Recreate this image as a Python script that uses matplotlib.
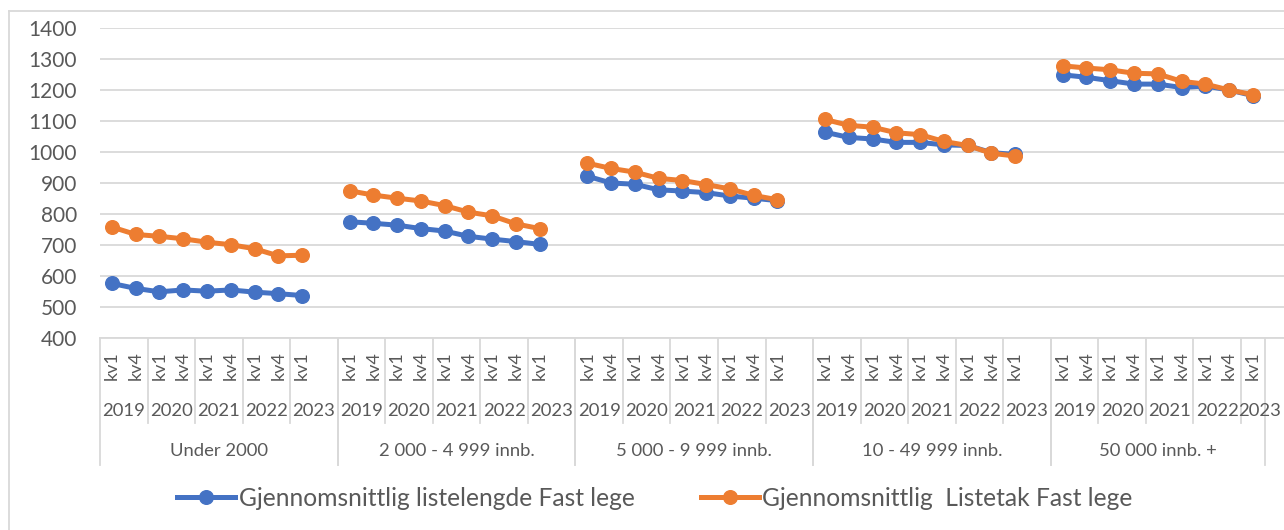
import numpy as np
import matplotlib.pyplot as plt
from matplotlib import transforms
from matplotlib.lines import Line2D

plt.rcParams['font.family'] = ['Lato', 'DejaVu Sans']

# Category levels
groups = ["Under 2000", "2 000 - 4 999 innb.", "5 000 - 9 999 innb.",
          "10 - 49 999 innb.", "50 000 innb. +"]
years = ["2019", "2020", "2021", "2022", "2023"]
quarters = ["kv1", "kv4", "kv1", "kv4", "kv1", "kv4", "kv1", "kv4", "kv1"]

# Gjennomsnittlig listelengde per kommunestørrelse
listelengde_under_2000 = [576, 560, 549, 555, 551, 555, 548, 543, 537]
listelengde_2000_4999 = [775, 770, 764, 753, 745, 728, 719, 711, 702]
listelengde_5000_9999 = [922, 900, 896, 878, 874, 869, 858, 851, 843]
listelengde_10_49999 = [1064, 1047, 1042, 1031, 1031, 1023, 1021, 998, 992]
listelengde_50000 = [1249, 1241, 1230, 1219, 1219, 1208, 1213, 1200, 1182]

# Gjennomsnittlig listetak per kommunestørrelse
listetak_under_2000 = [758, 734, 728, 720, 709, 701, 688, 665, 667]
listetak_2000_4999 = [875, 861, 851, 842, 827, 806, 794, 768, 753]
listetak_5000_9999 = [964, 947, 935, 915, 908, 895, 881, 860, 846]
listetak_10_49999 = [1105, 1086, 1080, 1062, 1056, 1034, 1021, 996, 987]
listetak_50000 = [1278, 1271, 1265, 1254, 1252, 1228, 1219, 1200, 1185]

listelengde = [listelengde_under_2000, listelengde_2000_4999, listelengde_5000_9999,
               listelengde_10_49999, listelengde_50000]
listetak = [listetak_under_2000, listetak_2000_4999, listetak_5000_9999,
            listetak_10_49999, listetak_50000]

# Slots per group on the category axis (last group has no trailing blank slot)
group_slots = [10, 10, 10, 10, 9]
starts = np.concatenate([[0], np.cumsum(group_slots)[:-1]])
n_slots_total = 50


def build_series(values_per_group):
    xs, ys = [], []
    for s, vals in zip(starts, values_per_group):
        xs.extend(s + np.arange(len(vals)) + 0.5)
        ys.extend(vals)
        xs.append(np.nan)
        ys.append(np.nan)
    return np.array(xs), np.array(ys, dtype=float)


W, H = 1284, 530
fig = plt.figure(figsize=(W / 100, H / 100), dpi=100)
ax = fig.add_axes([100 / W, (H - 338) / H, 1188.5 / W, 310 / H])

BLUE = '#4472C4'
ORANGE = '#ED7D31'
GRID = '#D9D9D9'
TEXT = '#595959'

x1, y1 = build_series(listelengde)
x2, y2 = build_series(listetak)
l1, = ax.plot(x1, y1, color=BLUE, lw=3.6, marker='o', ms=9.8,
              label='Gjennomsnittlig listelengde Fast lege', zorder=3)
l2, = ax.plot(x2, y2, color=ORANGE, lw=3.6, marker='o', ms=9.8,
              label='Gjennomsnittlig  Listetak Fast lege', zorder=4)

ax.set_xlim(0, n_slots_total)
ax.set_ylim(400, 1400)
ax.set_yticks(np.arange(400, 1401, 100))
ax.set_xticks([])
ax.yaxis.grid(True, color=GRID, lw=1.3)
ax.set_axisbelow(True)
ax.tick_params(axis='y', length=0, pad=16.5, labelsize=15, labelcolor=TEXT)
for side in ['top', 'right', 'left']:
    ax.spines[side].set_visible(False)
ax.spines['bottom'].set_color(GRID)
ax.spines['bottom'].set_linewidth(1.3)


def fy(ypx):
    return (H - ypx) / H


trans = transforms.blended_transform_factory(ax.transData, fig.transFigure)

# Multi-level category axis
for gi, (s, n, gname) in enumerate(zip(starts, group_slots, groups)):
    # group boundaries
    for b in (s, s + n):
        fig.add_artist(Line2D([b, b], [fy(338), fy(465)], transform=trans,
                              color=GRID, lw=1.3, clip_on=False))
    # year boundaries
    for b in (s + 2, s + 4, s + 6, s + 8):
        fig.add_artist(Line2D([b, b], [fy(338), fy(423)], transform=trans,
                              color=GRID, lw=1.3, clip_on=False))
    # quarter labels
    for k, q in enumerate(quarters):
        fig.text(s + k + 0.5, fy(366), q, transform=trans, rotation=90,
                 ha='center', va='center', fontsize=13, color=TEXT)
    # year labels
    spans = [(s, s + 2), (s + 2, s + 4), (s + 4, s + 6), (s + 6, s + 8), (s + 8, s + n)]
    for yi, ((a, b), yr) in enumerate(zip(spans, years)):
        xc = (a + b) / 2
        # the narrow final year cell spills its label to the right
        if b - a == 1:
            xc += 0.3
        fig.text(xc, fy(411), yr, transform=trans,
                 ha='center', va='center', fontsize=13.3, color=TEXT)
    fig.text(s + n / 2, fy(451), gname, transform=trans,
             ha='center', va='center', fontsize=13.3, color=TEXT)

# Chart area border
fig.add_artist(Line2D([9 / W, 9 / W], [fy(11), fy(540)], transform=fig.transFigure,
                      color=GRID, lw=1.3))
fig.add_artist(Line2D([9 / W, 1300 / W], [fy(11), fy(11)], transform=fig.transFigure,
                      color=GRID, lw=1.3))

fig.legend(handles=[l1, l2], loc='center', bbox_to_anchor=(655 / W, fy(498)),
           ncol=2, frameon=False, fontsize=17.7, handlelength=2.35,
           handletextpad=0.15, columnspacing=2.7, labelcolor=TEXT,
           markerscale=1.0)

fig.savefig('out.png', dpi=100)
